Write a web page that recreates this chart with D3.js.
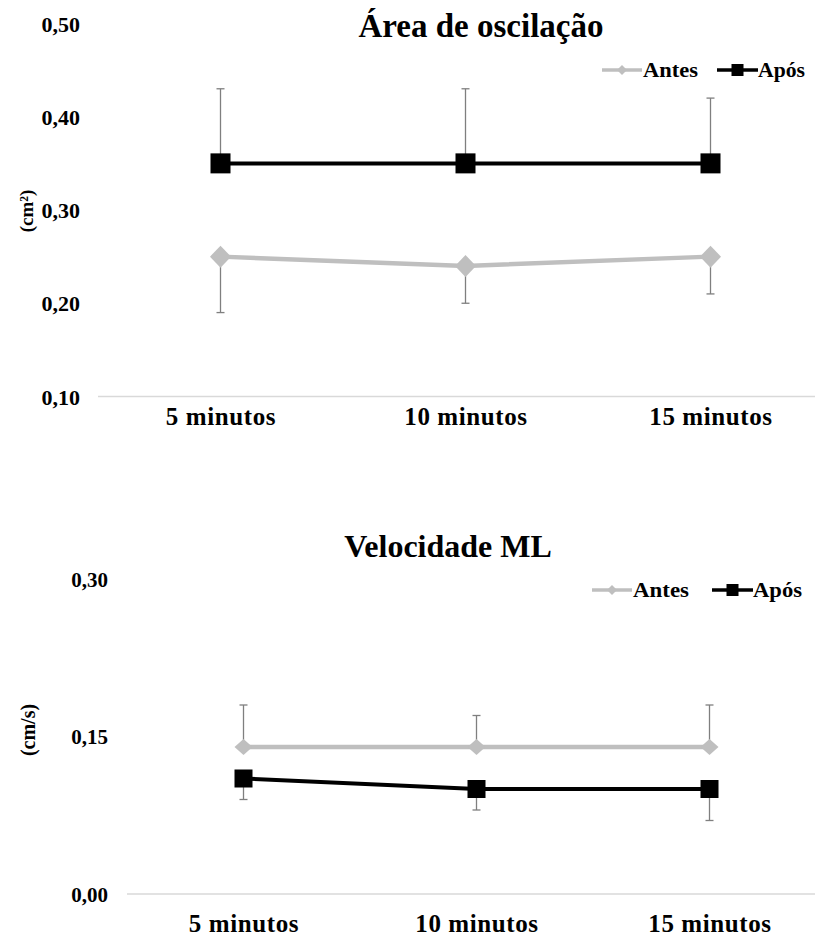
<!DOCTYPE html>
<html>
<head>
<meta charset="utf-8">
<script src="https://cdn.jsdelivr.net/npm/d3@7"></script>
<style>
  html, body { margin: 0; padding: 0; background: #ffffff; }
</style>
</head>
<body>
<svg id="chart" width="815" height="939"></svg>
<script>
// ---- data ----
const categories = ["5 minutos", "10 minutos", "15 minutos"];
const seriesNames = ["Antes", "Após"];

// Chart 1: Área de oscilação (cm²)
const areaAntes = [0.25, 0.24, 0.25];
const areaAntesErrDown = [0.06, 0.04, 0.04];
const areaApos = [0.35, 0.35, 0.35];
const areaAposErrUp = [0.08, 0.08, 0.07];
const areaTicks = [0.10, 0.20, 0.30, 0.40, 0.50];

// Chart 2: Velocidade ML (cm/s)
const velAntes = [0.14, 0.14, 0.14];
const velAntesErrUp = [0.04, 0.03, 0.04];
const velApos = [0.11, 0.10, 0.10];
const velAposErrDown = [0.02, 0.02, 0.03];
const velTicks = [0.00, 0.15, 0.30];

// ---- drawing ----
const FONT = "Liberation Serif";
const svg = d3.select("#chart").style("font-family", FONT);
const fmt = d3.formatLocale({decimal: ",", thousands: ".", grouping: [3], currency: ["", ""]}).format(".2f");
const grayLine = "#bfbfbf";
const errColor = "#7f7f7f";

function txt(sel, size) {
  return sel.style("font-family", FONT).style("font-weight", "bold").style("font-size", size + "px").attr("fill", "#000");
}

function drawChart(cfg) {
  const g = svg.append("g");
  const x = d3.scalePoint().domain(categories).range([cfg.xLeft, cfg.xRight]).padding(0.5);
  const y = d3.scaleLinear().domain(cfg.yDomain).range(cfg.yRange);

  // title
  txt(g.append("text").attr("x", cfg.titleX).attr("y", cfg.titleY)
    .attr("text-anchor", "middle"), cfg.titleSize)
    .text(cfg.title);

  // y axis labels
  const ya = g.append("g").attr("transform", `translate(${cfg.yLabelX},0)`)
    .call(d3.axisLeft(y).tickValues(cfg.ticks).tickSize(0).tickPadding(0).tickFormat(fmt));
  ya.attr("font-family", null);
  ya.select(".domain").remove();
  txt(ya.selectAll("text"), cfg.tickSize).attr("dy", "0.35em");

  // y axis title
  txt(g.append("text").attr("transform", `translate(${cfg.yTitleX},${cfg.yTitleY}) rotate(-90)`)
    .attr("text-anchor", "middle").attr("dy", "0.35em"), cfg.yTitleSize).text(cfg.yTitle);

  // baseline
  g.append("line").attr("x1", cfg.xLeft).attr("x2", 815)
    .attr("y1", y(cfg.yDomain[0])).attr("y2", y(cfg.yDomain[0]))
    .attr("stroke", "#d9d9d9").attr("stroke-width", 1.5);

  // x axis labels
  const xa = g.append("g").attr("transform", `translate(0,${cfg.xLabelY})`)
    .call(d3.axisBottom(x).tickSize(0).tickPadding(0));
  xa.attr("font-family", null);
  xa.select(".domain").remove();
  txt(xa.selectAll("text").attr("y", 0).attr("dy", 0), cfg.xLabelSize)
    .style("letter-spacing", "0.6px");

  // error bars
  function errBars(vals, errs, dir) {
    const eg = g.append("g");
    vals.forEach((v, i) => {
      const end = dir === "up" ? v + errs[i] : v - errs[i];
      const cx = x(categories[i]);
      eg.append("line").attr("x1", cx).attr("x2", cx).attr("y1", y(v)).attr("y2", y(end))
        .attr("stroke", errColor).attr("stroke-width", 1.3);
      eg.append("line").attr("x1", cx - 4).attr("x2", cx + 4).attr("y1", y(end)).attr("y2", y(end))
        .attr("stroke", errColor).attr("stroke-width", 1.3);
    });
  }
  errBars(cfg.antes, cfg.antesErr, cfg.antesDir);
  errBars(cfg.apos, cfg.aposErr, cfg.aposDir);

  const line = d3.line().x((d, i) => x(categories[i])).y(d => y(d));

  // Antes line + diamonds
  g.append("path").datum(cfg.antes).attr("d", line)
    .attr("fill", "none").attr("stroke", grayLine).attr("stroke-width", 4.5);
  g.selectAll(".dia" + cfg.id).data(cfg.antes).enter().append("path")
    .attr("d", (d, i) => {
      const cx = x(categories[i]), cy = y(d), w = cfg.diaW / 2, h = cfg.diaH / 2;
      return `M${cx},${cy - h}L${cx + w},${cy}L${cx},${cy + h}L${cx - w},${cy}Z`;
    })
    .attr("fill", grayLine);

  // Após line + squares
  g.append("path").datum(cfg.apos).attr("d", line)
    .attr("fill", "none").attr("stroke", "#000").attr("stroke-width", 4);
  g.selectAll(".sq" + cfg.id).data(cfg.apos).enter().append("rect")
    .attr("x", (d, i) => x(categories[i]) - cfg.sq / 2)
    .attr("y", d => y(d) - cfg.sq / 2)
    .attr("width", cfg.sq).attr("height", cfg.sq).attr("fill", "#000");

  // legend
  const L = cfg.legend;
  const lg = g.append("g");
  lg.append("line").attr("x1", L.a1).attr("x2", L.a2).attr("y1", L.y).attr("y2", L.y)
    .attr("stroke", grayLine).attr("stroke-width", 3.5);
  const am = (L.a1 + L.a2) / 2;
  lg.append("path").attr("d", `M${am},${L.y - 5}L${am + 5},${L.y}L${am},${L.y + 5}L${am - 5},${L.y}Z`).attr("fill", grayLine);
  txt(lg.append("text").attr("x", L.a2 + 1).attr("y", L.y).attr("dy", "0.35em"), L.size)
    .attr("textLength", L.aw).attr("lengthAdjust", "spacingAndGlyphs")
    .text(seriesNames[0]);
  lg.append("line").attr("x1", L.b1).attr("x2", L.b2).attr("y1", L.y).attr("y2", L.y)
    .attr("stroke", "#000").attr("stroke-width", 3.5);
  const bm = (L.b1 + L.b2) / 2;
  lg.append("rect").attr("x", bm - 6).attr("y", L.y - 6).attr("width", 12).attr("height", 12).attr("fill", "#000");
  txt(lg.append("text").attr("x", L.b2).attr("y", L.y).attr("dy", "0.35em"), L.size)
    .attr("textLength", L.bw).attr("lengthAdjust", "spacingAndGlyphs")
    .text(seriesNames[1]);
}

drawChart({
  id: 1,
  title: "Área de oscilação", titleX: 481, titleY: 37, titleSize: 33,
  xLeft: 98, xRight: 833,
  yDomain: [0.10, 0.50], yRange: [396.5, 23.5], ticks: areaTicks,
  yLabelX: 80, tickSize: 22,
  yTitle: "(cm²)", yTitleX: 26, yTitleY: 211, yTitleSize: 19,
  xLabelY: 425, xLabelSize: 25,
  antes: areaAntes, antesErr: areaAntesErrDown, antesDir: "down",
  apos: areaApos, aposErr: areaAposErrUp, aposDir: "up",
  diaW: 21, diaH: 22, sq: 20,
  legend: {y: 70, a1: 602, a2: 642, aw: 55, b1: 717, b2: 758, bw: 47, size: 21}
});

drawChart({
  id: 2,
  title: "Velocidade ML", titleX: 448, titleY: 557, titleSize: 32,
  xLeft: 127, xRight: 826,
  yDomain: [0.00, 0.30], yRange: [894, 579], ticks: velTicks,
  yLabelX: 108, tickSize: 21,
  yTitle: "(cm/s)", yTitleX: 28, yTitleY: 730, yTitleSize: 20,
  xLabelY: 932, xLabelSize: 25,
  antes: velAntes, antesErr: velAntesErrUp, antesDir: "up",
  apos: velApos, aposErr: velAposErrDown, aposDir: "down",
  diaW: 18, diaH: 16, sq: 18,
  legend: {y: 590, a1: 592, a2: 632, aw: 56, b1: 712, b2: 753, bw: 49, size: 21}
});
</script>
</body>
</html>
